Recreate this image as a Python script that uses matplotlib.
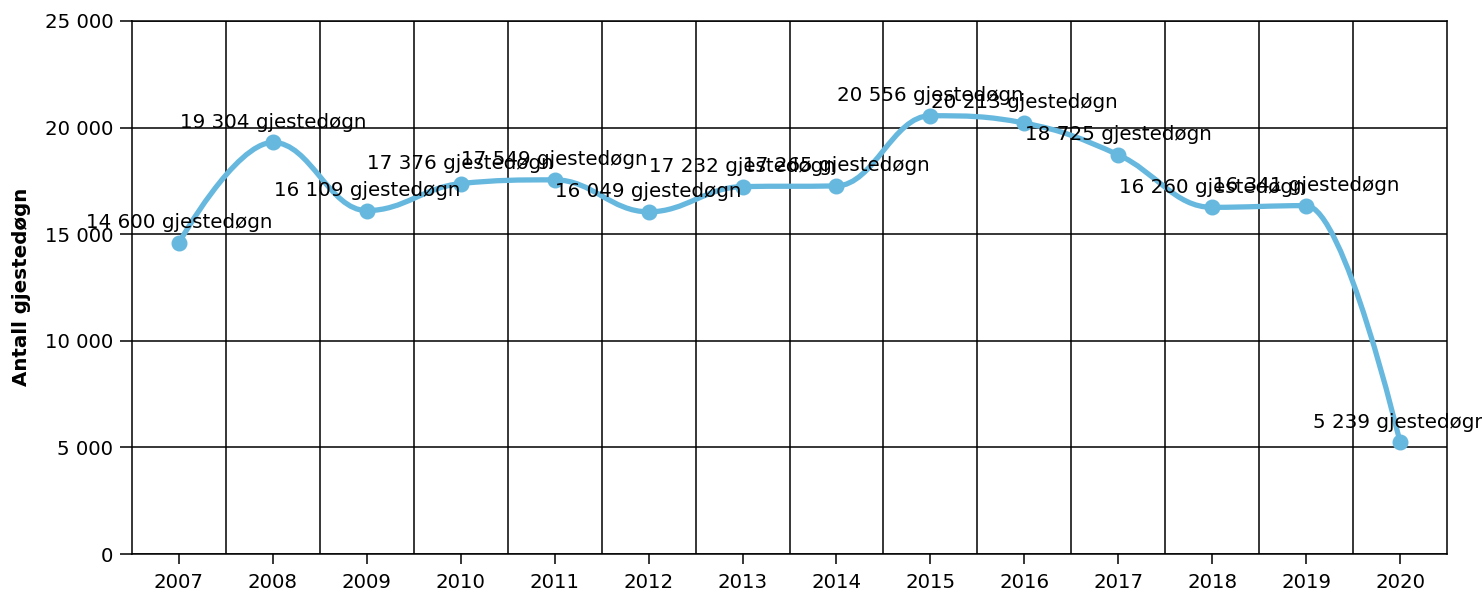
import matplotlib
matplotlib.use("Agg")
import matplotlib.pyplot as plt
from matplotlib.path import Path
from matplotlib.patches import PathPatch
from matplotlib.ticker import FixedLocator, FuncFormatter, MultipleLocator
import numpy as np

years = [2007, 2008, 2009, 2010, 2011, 2012, 2013, 2014, 2015, 2016, 2017, 2018, 2019, 2020]
values = [14600, 19304, 16109, 17376, 17549, 16049, 17232, 17265, 20556, 20213, 18725, 16260, 16341, 5239]
unit = "gjestedøgn"
ylabel = "Antall gjestedøgn"

LINE_COLOR = "#67b8de"

plt.rcParams['font.family'] = ['DejaVu Sans']


def spline_path(xs, ys, smoothing=1.5):
    n = len(xs)
    denom = smoothing + 1
    left = [None] * n
    right = [None] * n
    for i in range(n):
        if i == 0 or i == n - 1:
            left[i] = (xs[i], ys[i])
            right[i] = (xs[i], ys[i])
            continue
        px, py = xs[i], ys[i]
        lx, ly = xs[i - 1], ys[i - 1]
        nx, ny = xs[i + 1], ys[i + 1]
        lcx = (smoothing * px + lx) / denom
        lcy = (smoothing * py + ly) / denom
        rcx = (smoothing * px + nx) / denom
        rcy = (smoothing * py + ny) / denom
        if rcx != lcx:
            corr = ((rcy - lcy) * (rcx - px)) / (rcx - lcx) + py - rcy
            lcy += corr
            rcy += corr
        if lcy > ly and lcy > py:
            lcy = max(ly, py)
            rcy = 2 * py - lcy
        elif lcy < ly and lcy < py:
            lcy = min(ly, py)
            rcy = 2 * py - lcy
        if rcy > ny and rcy > py:
            rcy = max(ny, py)
            lcy = 2 * py - rcy
        elif rcy < ny and rcy < py:
            rcy = min(ny, py)
            lcy = 2 * py - rcy
        left[i] = (lcx, lcy)
        right[i] = (rcx, rcy)
    verts = [(xs[0], ys[0])]
    codes = [Path.MOVETO]
    for i in range(1, n):
        verts += [right[i - 1], left[i], (xs[i], ys[i])]
        codes += [Path.CURVE4] * 3
    return Path(verts, codes)


fig = plt.figure(figsize=(14.82, 5.97), dpi=100)
ax = fig.add_axes([132 / 1482, 1 - 554 / 597, (1447 - 132) / 1482, (554 - 21) / 597])

x = np.arange(len(years))
path = spline_path(list(x.astype(float)), [float(v) for v in values])
ax.add_patch(PathPatch(path, facecolor="none", edgecolor=LINE_COLOR, lw=3.8,
                       capstyle="round", joinstyle="round", zorder=3))
ax.plot(x, values, linestyle="none", marker="o", markersize=10.5,
        color=LINE_COLOR, zorder=4)


def fmt_num(v):
    return f"{int(v):,}".replace(",", " ")


for xi, v in zip(x, values):
    ax.annotate(f"{fmt_num(v)} {unit}", (xi, v), xytext=(0, 14.5),
                textcoords="offset points", ha="center", va="center",
                fontsize=14.3, color="black", zorder=5, annotation_clip=False)

ax.set_xlim(-0.5, len(years) - 0.5)
ax.set_ylim(0, 25000)

ax.xaxis.set_major_locator(FixedLocator(list(x)))
ax.set_xticklabels([str(y) for y in years])
ax.xaxis.set_minor_locator(FixedLocator(list(np.arange(0.5, len(years) - 1, 1.0))))
ax.yaxis.set_major_locator(MultipleLocator(5000))
ax.yaxis.set_major_formatter(FuncFormatter(lambda v, p: fmt_num(v)))

ax.grid(False)
ax.grid(True, which="minor", axis="x", color="black", lw=1.1)
ax.grid(True, which="major", axis="y", color="black", lw=1.1)
ax.set_axisbelow(True)

ax.tick_params(axis="x", which="major", direction="out", length=7, width=1.1,
               pad=6.8, labelsize=14.2)
ax.tick_params(axis="x", which="minor", length=0)
ax.tick_params(axis="y", which="major", direction="out", length=9, width=1.1,
               pad=4.5, labelsize=14.2)

for s in ax.spines.values():
    s.set_color("black")
    s.set_linewidth(1.1)

fig.text(22 / 1482, 1 - 287 / 597, ylabel, rotation=90, ha="center", va="center",
         fontsize=14.3, fontweight="bold")

fig.savefig("out.png", dpi=100)
